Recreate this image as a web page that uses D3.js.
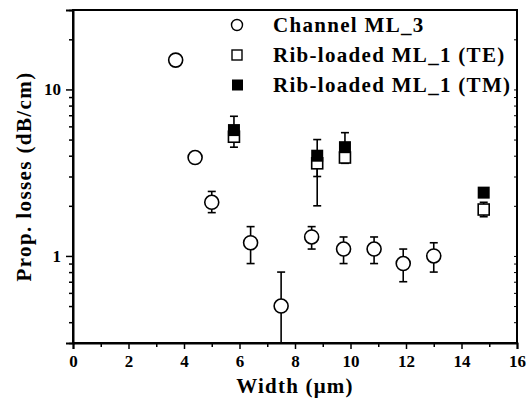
<!DOCTYPE html>
<html>
<head>
<meta charset="utf-8">
<script src="https://cdn.jsdelivr.net/npm/d3@7"></script>
<style>
  body { margin: 0; background: #fff; }
  svg text { font-family: "Liberation Serif", "Times New Roman", serif; font-weight: bold; fill: #000; }
</style>
</head>
<body>
<div id="chart"></div>
<script>
// Channel ML_3 (open circles)
const channelX = [3.7, 4.4, 5.0, 6.4, 7.5, 8.6, 9.75, 10.85, 11.9, 13.0];
const channelY = [15, 3.9, 2.1, 1.2, 0.5, 1.3, 1.1, 1.1, 0.9, 1.0];
const channelLo = [14.2, 3.7, 1.82, 0.9, 0.25, 1.1, 0.9, 0.9, 0.7, 0.8];
const channelHi = [16, 4.1, 2.44, 1.5, 0.8, 1.5, 1.3, 1.3, 1.1, 1.2];

// Rib-loaded ML_1 (TE) (open squares)
const teX = [5.8, 8.8, 9.8, 14.8];
const teY = [5.2, 3.6, 3.9, 1.9];
const teLo = [4.5, 2.0, 3.6, 1.72];
const teHi = [5.8, 4.0, 4.2, 2.1];

// Rib-loaded ML_1 (TM) (filled squares)
const tmX = [5.8, 8.8, 9.8, 14.8];
const tmY = [5.7, 4.0, 4.5, 2.4];
const tmLo = [5.1, 3.0, 4.0, 2.3];
const tmHi = [6.9, 5.0, 5.5, 2.5];

const legendLabels = ["Channel ML_3", "Rib-loaded ML_1 (TE)", "Rib-loaded ML_1 (TM)"];
const xTicks = [0, 2, 4, 6, 8, 10, 12, 14, 16];
const yTicks = [1, 10];

const width = 529, height = 400;
const margin = { top: 10, right: 12, bottom: 57, left: 73 };

const svg = d3.select("#chart").append("svg")
    .attr("width", width)
    .attr("height", height);

const x = d3.scaleLinear().domain([0, 16]).range([margin.left, width - margin.right]);
const y = d3.scaleLog().domain([0.3, 30]).range([height - margin.bottom, margin.top]);

// minor log ticks
const minorY = [];
[0.1, 1, 10].forEach(function (d) {
    for (let k = 2; k <= 9; k++) {
        const v = d * k;
        if (v >= 0.3 && v <= 30) minorY.push(v);
    }
});

// frame
svg.append("rect")
    .attr("x", margin.left).attr("y", margin.top)
    .attr("width", x(16) - x(0)).attr("height", y(0.3) - y(30))
    .attr("fill", "none").attr("stroke", "#000").attr("stroke-width", 2);

// bottom axis
const xAxis = svg.append("g")
    .attr("transform", "translate(0," + y(0.3) + ")")
    .call(d3.axisBottom(x).tickValues(xTicks).tickSize(6).tickPadding(6).tickFormat(d3.format("d")));
xAxis.select(".domain").attr("stroke-width", 2);
xAxis.selectAll(".tick line").attr("stroke-width", 1.5);
xAxis.selectAll("text").style("font-size", "17px");

const xMinor = svg.append("g")
    .attr("transform", "translate(0," + y(0.3) + ")")
    .call(d3.axisBottom(x).tickValues(d3.range(1, 16, 2)).tickSize(4).tickFormat(""));
xMinor.select(".domain").remove();
xMinor.selectAll(".tick line").attr("stroke-width", 1.5);

// left axis
const yAxis = svg.append("g")
    .attr("transform", "translate(" + x(0) + ",0)")
    .call(d3.axisLeft(y).tickValues(yTicks).tickSize(7).tickPadding(5).tickFormat(d3.format("d")));
yAxis.select(".domain").attr("stroke-width", 2);
yAxis.selectAll(".tick line").attr("stroke-width", 1.5);
yAxis.selectAll("text").style("font-size", "17px");

const yMinor = svg.append("g")
    .attr("transform", "translate(" + x(0) + ",0)")
    .call(d3.axisLeft(y).tickValues(minorY).tickSize(4).tickFormat(""));
yMinor.select(".domain").remove();
yMinor.selectAll(".tick line").attr("stroke-width", 1.5);

// right axis small inward ticks
const yRight = svg.append("g")
    .attr("transform", "translate(" + x(16) + ",0)")
    .call(d3.axisLeft(y).tickValues(yTicks.concat(minorY)).tickSize(3).tickFormat(""));
yRight.select(".domain").remove();
yRight.selectAll(".tick line").attr("stroke-width", 1);

// axis titles
svg.append("text")
    .attr("x", (x(0) + x(16)) / 2)
    .attr("y", 393)
    .attr("text-anchor", "middle")
    .style("font-size", "21px")
    .style("letter-spacing", "1.2px")
    .text("Width (\u03bcm)");

svg.append("text")
    .attr("transform", "translate(31," + ((y(0.3) + y(30)) / 2) + ") rotate(-90)")
    .attr("text-anchor", "middle")
    .style("font-size", "21px")
    .style("letter-spacing", "1.4px")
    .text("Prop. losses (dB/cm)");

// error bars
function errorBars(xs, lo, hi) {
    const g = svg.append("g").attr("stroke", "#000").attr("stroke-width", 1.6);
    xs.forEach(function (xv, i) {
        const yb = Math.min(y(Math.max(lo[i], 0.3)), y(0.3));
        g.append("line").attr("x1", x(xv)).attr("x2", x(xv)).attr("y1", y(hi[i])).attr("y2", yb);
        g.append("line").attr("x1", x(xv) - 4).attr("x2", x(xv) + 4).attr("y1", y(hi[i])).attr("y2", y(hi[i]));
        if (lo[i] > 0.3) {
            g.append("line").attr("x1", x(xv) - 4).attr("x2", x(xv) + 4).attr("y1", y(lo[i])).attr("y2", y(lo[i]));
        }
    });
}
errorBars(teX, teLo, teHi);
errorBars(tmX, tmLo, tmHi);
errorBars(channelX, channelLo, channelHi);

// markers
svg.append("g").selectAll("rect")
    .data(teX).enter().append("rect")
    .attr("x", function (d) { return x(d) - 5.5; })
    .attr("y", function (d, i) { return y(teY[i]) - 5.5; })
    .attr("width", 11).attr("height", 11)
    .attr("fill", "#fff").attr("stroke", "#000").attr("stroke-width", 1.6);

svg.append("g").selectAll("rect")
    .data(tmX).enter().append("rect")
    .attr("x", function (d) { return x(d) - 6; })
    .attr("y", function (d, i) { return y(tmY[i]) - 6; })
    .attr("width", 12).attr("height", 12)
    .attr("fill", "#000");

svg.append("g").selectAll("circle")
    .data(channelX).enter().append("circle")
    .attr("cx", function (d) { return x(d); })
    .attr("cy", function (d, i) { return y(channelY[i]); })
    .attr("r", 7)
    .attr("fill", "#fff").attr("stroke", "#000").attr("stroke-width", 1.6);

// legend
const legend = svg.append("g");
const legendY = [25, 55, 85];
legendLabels.forEach(function (label, i) {
    const cy = legendY[i];
    if (i === 0) {
        legend.append("circle").attr("cx", 237).attr("cy", cy).attr("r", 5.5)
            .attr("fill", "#fff").attr("stroke", "#000").attr("stroke-width", 1.4);
    } else if (i === 1) {
        legend.append("rect").attr("x", 232).attr("y", cy - 5).attr("width", 10).attr("height", 10)
            .attr("fill", "#fff").attr("stroke", "#000").attr("stroke-width", 1.4);
    } else {
        legend.append("rect").attr("x", 232).attr("y", cy - 5.5).attr("width", 11).attr("height", 11)
            .attr("fill", "#000");
    }
    legend.append("text")
        .attr("x", 273)
        .attr("y", cy + 7)
        .style("font-size", "21px")
        .style("letter-spacing", "1.3px")
        .text(label);
});
</script>
</body>
</html>
